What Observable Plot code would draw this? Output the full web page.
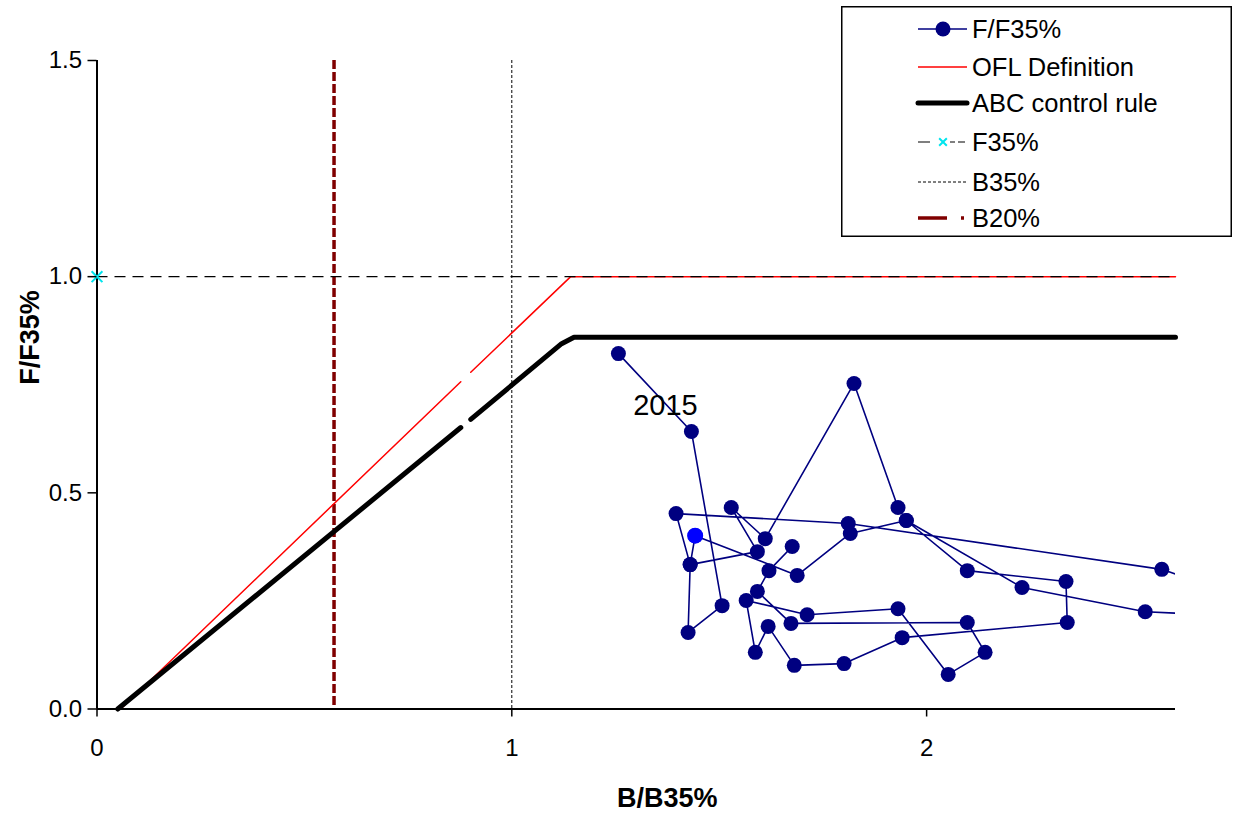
<!DOCTYPE html>
<html><head><meta charset="utf-8">
<script src="https://cdn.jsdelivr.net/npm/d3@7"></script>
<script src="https://cdn.jsdelivr.net/npm/@observablehq/plot@0.6"></script>
<style>
body{margin:0;background:#fff;}
#wrap{position:relative;width:1233px;height:813px;font-family:"Liberation Sans",Arial,sans-serif;}
#legend{position:absolute;left:841px;top:6px;}
</style></head><body><div id="wrap"></div>
<script>
// Stock trajectory (B/B35%, F/F35%) in drawing order
const trajB = [1.257,1.433,1.507,1.425,1.430,1.442,1.688,1.816,1.951,1.931,1.825,1.611,1.529,1.592,1.430,1.396,1.811,2.567,2.927,2.527,2.230,1.951,2.098,2.336,2.339,1.941,1.801,1.681,1.618,1.587,1.565,1.712,1.931,2.052,2.141,2.098,1.673,1.592,1.620,1.676];
const trajF = [0.822,0.642,0.239,0.177,0.334,0.401,0.309,0.406,0.436,0.466,0.753,0.394,0.466,0.364,0.334,0.452,0.429,0.323,0.207,0.225,0.281,0.436,0.320,0.295,0.200,0.165,0.105,0.101,0.191,0.131,0.251,0.218,0.232,0.080,0.131,0.200,0.198,0.272,0.320,0.376];
// highlighted point
const currentB = [1.442];
const currentF = [0.401];
// year label
const yearLabel = ["2015"];
const yearLabelB = [1.433];
const yearLabelF = [0.642];
// OFL definition and ABC control rule (gap in original series)
const oflB = [0, 0.057, 0.877, NaN, 0.901, 1.142, 2.6];
const oflF = [0, 0, 0.757, NaN, 0.779, 1.0, 1.0];
const abcB = [0.05, 0.877, NaN, 0.901, 1.12, 1.15, 2.6];
const abcF = [0, 0.651, NaN, 0.670, 0.845, 0.86, 0.86];
// reference levels
const f35Level = [1];
const b35Level = [1];
const b20Level = [20/35];
const xTicks = [0, 1, 2];
const yTicks = [0, 0.5, 1.0, 1.5];
const legendLabels = ["F/F35%", "OFL Definition", "ABC control rule", "F35%", "B35%", "B20%"];

const traj = trajB.map((b, i) => ({b, f: trajF[i]}));
const ofl = oflB.map((b, i) => ({b, f: oflF[i]}));
const abc = abcB.map((b, i) => ({b, f: abcF[i]}));
const cur = currentB.map((b, i) => ({b, f: currentF[i]}));
const lab = yearLabel.map((t, i) => ({t, b: yearLabelB[i], f: yearLabelF[i]}));

const chart = Plot.plot({
  width: 1233, height: 813,
  marginLeft: 96.5, marginRight: 58, marginTop: 60, marginBottom: 104.5,
  style: {fontFamily: '"Liberation Sans", Arial, sans-serif', color: "#000", background: "#fff"},
  x: {domain: [0, 2.6]},
  y: {domain: [0, 1.5]},
  marks: [
    Plot.ruleX(b35Level, {stroke: "#000", strokeWidth: 1, strokeDasharray: "3,2"}),
    Plot.ruleX(b20Level, {stroke: "#800000", strokeWidth: 3.5, strokeDasharray: "9,3"}),
    Plot.line(ofl, {x: "b", y: "f", stroke: "#ff0000", strokeWidth: 1.5}),
    Plot.ruleY(f35Level, {stroke: "#000", strokeWidth: 1.2, strokeDasharray: "11,7"}),
    Plot.line(abc, {x: "b", y: "f", stroke: "#000", strokeWidth: 5, strokeLinecap: "round"}),
    Plot.line(traj, {x: "b", y: "f", stroke: "#000080", strokeWidth: 1.6, clip: true}),
    Plot.dot(traj, {x: "b", y: "f", r: 7.5, fill: "#000080", clip: true}),
    Plot.dot(cur, {x: "b", y: "f", r: 8, fill: "#0000ff"}),
    Plot.ruleX([0], {stroke: "#000", strokeWidth: 2}),
    Plot.ruleY([0], {stroke: "#000", strokeWidth: 2}),
    Plot.dot(f35Level, {x: () => 0, y: d => d, symbol: "times", r: 5, stroke: "#00e5ee", strokeWidth: 2}),
    Plot.text(lab, {x: "b", y: "f", text: "t", dx: -26, dy: -26, fontSize: 29, fill: "#000"}),
    Plot.axisY({ticks: yTicks, tickFormat: d => d.toFixed(1), tickSize: 9, tickPadding: 6, fontSize: 24, label: null, strokeWidth: 1.5}),
    Plot.axisX({ticks: xTicks, tickFormat: d => String(d), tickSize: 8, tickPadding: 22, fontSize: 24, label: null, strokeWidth: 1.5}),
    Plot.text(["B/B35%"], {frameAnchor: "bottom", dx: 31, dy: 98, fontSize: 27, fontWeight: "bold", fill: "#000"}),
    Plot.text(["F/F35%"], {frameAnchor: "left", dx: -67, dy: 0, rotate: -90, fontSize: 27, fontWeight: "bold", fill: "#000"})
  ]
});
document.getElementById("wrap").appendChild(chart);

// Legend box
const W = 391, H = 231;
const leg = d3.create("svg").attr("id", "legend").attr("width", W).attr("height", H)
  .style("position", "absolute").style("left", "841px").style("top", "6px");
leg.append("rect").attr("x", 0.75).attr("y", 0.75).attr("width", W - 1.5).attr("height", H - 1.5)
  .attr("fill", "#fff").attr("stroke", "#000").attr("stroke-width", 1.5);
const rows = [23, 61, 97, 136, 176, 212];
const x0 = 77, x1 = 126, xm = 102;
const g = leg.append("g");
// 1 trajectory
g.append("line").attr("x1", x0).attr("x2", x1).attr("y1", rows[0]).attr("y2", rows[0]).attr("stroke", "#000080").attr("stroke-width", 1.6);
g.append("circle").attr("cx", xm).attr("cy", rows[0]).attr("r", 7.5).attr("fill", "#000080");
// 2 OFL
g.append("line").attr("x1", x0).attr("x2", x1).attr("y1", rows[1]).attr("y2", rows[1]).attr("stroke", "#ff0000").attr("stroke-width", 1.5);
// 3 ABC
g.append("line").attr("x1", x0).attr("x2", x1).attr("y1", rows[2]).attr("y2", rows[2]).attr("stroke", "#000").attr("stroke-width", 5).attr("stroke-linecap", "round");
// 4 F35
g.append("line").attr("x1", x0).attr("x2", x1).attr("y1", rows[3]).attr("y2", rows[3]).attr("stroke", "#000").attr("stroke-width", 1.2).attr("stroke-dasharray", "12,20,5,3,7");
g.append("path").attr("d", d3.symbol(d3.symbolTimes, 40)()).attr("transform", `translate(${xm},${rows[3]})`).attr("stroke", "#00e5ee").attr("stroke-width", 2).attr("fill", "none");
// 5 B35
g.append("line").attr("x1", x0).attr("x2", x1).attr("y1", rows[4]).attr("y2", rows[4]).attr("stroke", "#000").attr("stroke-width", 1).attr("stroke-dasharray", "3,2");
// 6 B20
g.append("line").attr("x1", x0).attr("x2", x1).attr("y1", rows[5]).attr("y2", rows[5]).attr("stroke", "#800000").attr("stroke-width", 3.5).attr("stroke-dasharray", "29,14,3,20");
legendLabels.forEach((t, i) => {
  g.append("text").attr("x", 131).attr("y", rows[i]).attr("dy", "0.35em")
    .attr("font-family", '"Liberation Sans", Arial, sans-serif').attr("font-size", 25.5).attr("fill", "#000").text(t);
});
document.getElementById("wrap").appendChild(leg.node());
</script></body></html>
